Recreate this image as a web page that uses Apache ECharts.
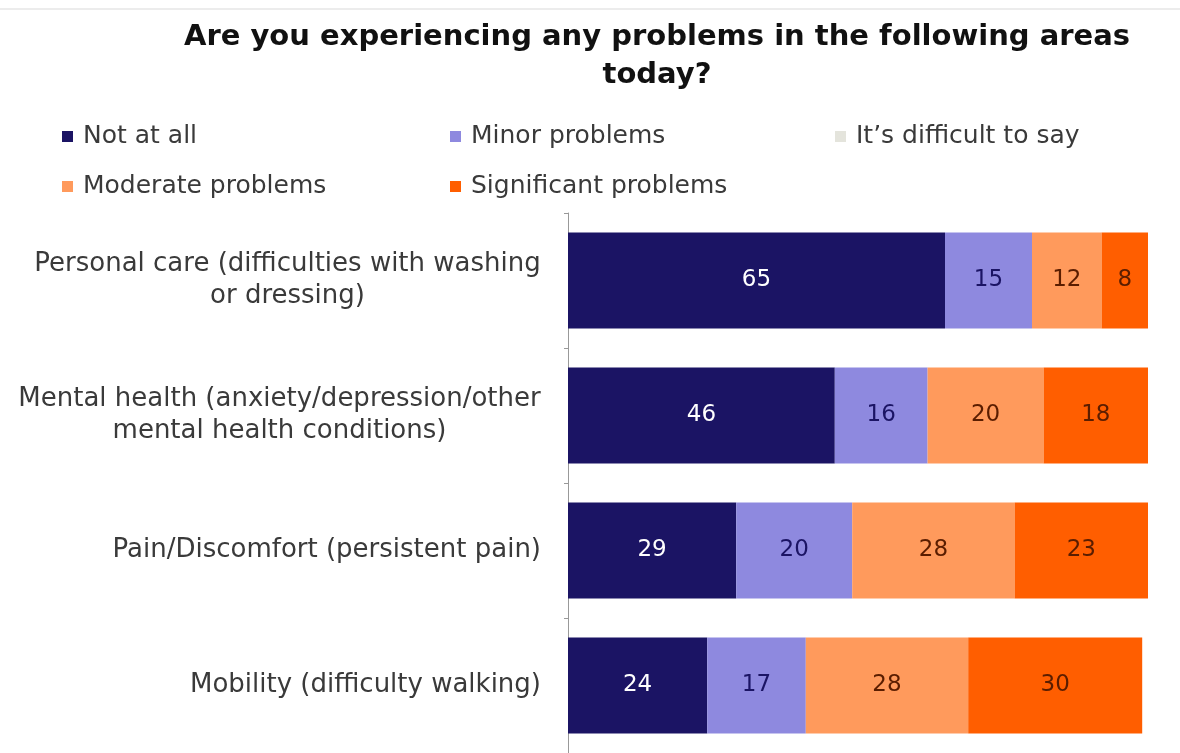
<!DOCTYPE html>
<html>
<head>
<meta charset="utf-8">
<script src="https://cdn.jsdelivr.net/npm/echarts@6/dist/echarts.min.js"></script>
<style>
  html, body { margin: 0; padding: 0; background: #ffffff; }
  #chart { width: 1180px; height: 753px; }
</style>
</head>
<body>
<div id="chart"></div>
<script>
// Survey areas, listed top to bottom
const categories = [
  'Personal care (difficulties with washing\nor dressing)',
  'Mental health (anxiety/depression/other\nmental health conditions)',
  'Pain/Discomfort (persistent pain)',
  'Mobility (difficulty walking)'
];

// Response shares (%) per area, same order as categories
const notAtAll     = [65, 46, 29, 24];
const minor        = [15, 16, 20, 17];
const difficult    = [0, 0, 0, 0];
const moderate     = [12, 20, 28, 28];
const significant  = [8, 18, 23, 30];

const seriesNames = ['Not at all', 'Minor problems', "It\u2019s difficult to say", 'Moderate problems', 'Significant problems'];
const seriesData = [notAtAll, minor, difficult, moderate, significant];
const colors = ['#1b1464', '#8e89df', '#e4e4dc', '#ff9a5c', '#ff5e00'];
const labelColors = ['#ffffff', '#1b1464', '#333333', '#5a1d00', '#5a1d00'];

// Legend slots: two rows, three columns
const legendPos = [[57, 119], [445, 119], [830, 119], [57, 169], [445, 169]];

const FONT = '"DejaVu Sans", "Noto Sans", sans-serif';
const CAT_SIZE = 26;

// Two-line category labels are centred line by line inside a box as wide as
// their longest line; the box itself stays right-aligned against the axis.
const measureCtx = document.createElement('canvas').getContext('2d');
measureCtx.font = CAT_SIZE + 'px ' + FONT;
const catRich = {};
categories.forEach((c, i) => {
  const w = Math.max(...c.split('\n').map(l => measureCtx.measureText(l).width));
  catRich['c' + i] = { width: Math.ceil(w), align: 'center' };
});

const chart = echarts.init(document.getElementById('chart'), null, { renderer: 'canvas' });

chart.setOption({
  backgroundColor: '#ffffff',
  animation: false,
  title: {
    text: 'Are you experiencing any problems in the following areas\ntoday?',
    left: 652,
    textAlign: 'center',
    top: 13,
    textStyle: {
      fontFamily: FONT,
      fontWeight: 'bold',
      fontSize: 29,
      lineHeight: 38,
      color: '#111111'
    }
  },
  legend: seriesNames.map((name, i) => ({
    data: [name],
    left: legendPos[i][0],
    top: legendPos[i][1],
    itemWidth: 11, itemHeight: 11, itemGap: 0,
    icon: 'rect',
    textStyle: { fontFamily: FONT, fontSize: 25, color: '#3a3a3a', padding: [0, 0, 0, 5] }
  })),
  graphic: [
    { type: 'line', shape: { x1: 0, y1: 9, x2: 1180, y2: 9 }, style: { stroke: '#ececec', lineWidth: 2 } }
  ],
  grid: { left: 568, right: 32, top: 213, bottom: -2 },
  xAxis: {
    type: 'value', min: 0, max: 100,
    show: false
  },
  yAxis: {
    type: 'category',
    inverse: true,
    data: categories,
    axisLine: { show: true, lineStyle: { color: '#999999', width: 1 } },
    axisTick: { show: true, length: 4, lineStyle: { color: '#999999' } },
    axisLabel: {
      fontFamily: FONT, fontSize: CAT_SIZE, lineHeight: 32, color: '#3a3a3a',
      margin: 27, align: 'right',
      formatter: (value, idx) => {
        const lines = value.split('\n');
        if (lines.length < 2) return value;
        return lines.map(l => '{c' + idx + '|' + l + '}').join('\n');
      },
      rich: catRich
    }
  },
  series: seriesNames.map((name, i) => ({
    name,
    type: 'bar',
    stack: 'total',
    barWidth: 96,
    data: seriesData[i],
    itemStyle: { color: colors[i] },
    label: {
      show: true,
      position: 'inside',
      fontFamily: FONT,
      fontSize: 23,
      color: labelColors[i],
      formatter: p => (p.value > 0 ? p.value : '')
    }
  }))
});
</script>
</body>
</html>
